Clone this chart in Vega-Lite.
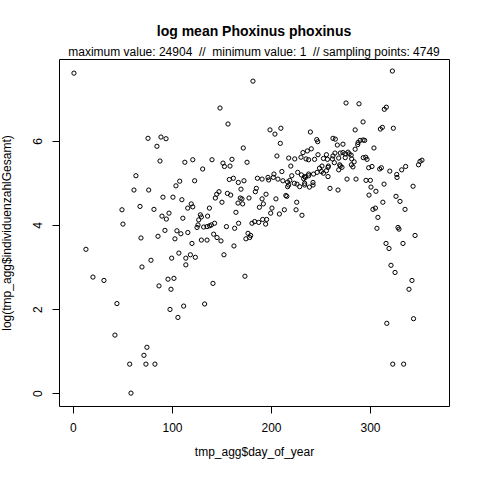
{
  "$schema": "https://vega.github.io/schema/vega-lite/v6.json",
  "width": 390,
  "height": 347,
  "autosize": "none",
  "padding": {"left": 59, "top": 59, "right": 31, "bottom": 74},
  "background": "white",
  "title": {
    "text": "log mean Phoxinus phoxinus",
    "subtitle": "maximum value: 24904 \u00a0//\u00a0 minimum value: 1 \u00a0// sampling points: 4749",
    "font": "Liberation Sans",
    "fontSize": 14,
    "fontWeight": "bold",
    "color": "black",
    "subtitleFont": "Liberation Sans",
    "subtitleFontSize": 12,
    "subtitleColor": "black",
    "subtitlePadding": 8,
    "anchor": "middle",
    "offset": 1
  },
  "config": {
    "view": {"stroke": "black", "strokeWidth": 1},
    "axis": {
      "grid": false,
      "domain": false,
      "tickColor": "black",
      "tickSize": 7,
      "labelFont": "Liberation Sans",
      "labelFontSize": 12,
      "labelColor": "black",
      "titleFont": "Liberation Sans",
      "titleFontSize": 12,
      "titleFontWeight": "normal",
      "titleColor": "black"
    }
  },
  "data": {
    "values": [
      {"day_of_year": 1, "log_count": 7.61},
      {"day_of_year": 75.8, "log_count": 6.06},
      {"day_of_year": 88.9, "log_count": 6.09},
      {"day_of_year": 94, "log_count": 6.05},
      {"day_of_year": 84.8, "log_count": 5.87},
      {"day_of_year": 87.9, "log_count": 5.52},
      {"day_of_year": 113, "log_count": 5.49},
      {"day_of_year": 63.6, "log_count": 5.17},
      {"day_of_year": 181.8, "log_count": 7.42},
      {"day_of_year": 148.5, "log_count": 6.78},
      {"day_of_year": 156.6, "log_count": 6.4},
      {"day_of_year": 199, "log_count": 6.26},
      {"day_of_year": 204, "log_count": 6.16},
      {"day_of_year": 210, "log_count": 6.3},
      {"day_of_year": 239.8, "log_count": 6.21},
      {"day_of_year": 209.4, "log_count": 5.94},
      {"day_of_year": 172, "log_count": 5.83},
      {"day_of_year": 246.2, "log_count": 6.03},
      {"day_of_year": 247.2, "log_count": 5.98},
      {"day_of_year": 121, "log_count": 5.55},
      {"day_of_year": 131, "log_count": 5.33},
      {"day_of_year": 140.4, "log_count": 5.55},
      {"day_of_year": 151.5, "log_count": 5.47},
      {"day_of_year": 153, "log_count": 5.39},
      {"day_of_year": 158.6, "log_count": 5.4},
      {"day_of_year": 160.6, "log_count": 5.56},
      {"day_of_year": 175.8, "log_count": 5.49},
      {"day_of_year": 206, "log_count": 5.64},
      {"day_of_year": 217.9, "log_count": 5.59},
      {"day_of_year": 224, "log_count": 5.57},
      {"day_of_year": 230.3, "log_count": 5.61},
      {"day_of_year": 235.4, "log_count": 5.57},
      {"day_of_year": 238, "log_count": 5.55},
      {"day_of_year": 244, "log_count": 5.56},
      {"day_of_year": 247.5, "log_count": 5.67},
      {"day_of_year": 236.7, "log_count": 5.76},
      {"day_of_year": 240.7, "log_count": 5.81},
      {"day_of_year": 220, "log_count": 5.4},
      {"day_of_year": 203, "log_count": 5.21},
      {"day_of_year": 211, "log_count": 5.27},
      {"day_of_year": 221, "log_count": 5.17},
      {"day_of_year": 227, "log_count": 5.25},
      {"day_of_year": 238, "log_count": 5.21},
      {"day_of_year": 243, "log_count": 5.21},
      {"day_of_year": 246.6, "log_count": 5.25},
      {"day_of_year": 322.6, "log_count": 7.66},
      {"day_of_year": 275.8, "log_count": 6.9},
      {"day_of_year": 288.9, "log_count": 6.88},
      {"day_of_year": 314.5, "log_count": 6.75},
      {"day_of_year": 316.5, "log_count": 6.8},
      {"day_of_year": 293, "log_count": 6.45},
      {"day_of_year": 285, "log_count": 6.26},
      {"day_of_year": 310.5, "log_count": 6.28},
      {"day_of_year": 312.5, "log_count": 6.32},
      {"day_of_year": 323.6, "log_count": 6.3},
      {"day_of_year": 262.6, "log_count": 6.06},
      {"day_of_year": 265, "log_count": 6.04},
      {"day_of_year": 288, "log_count": 5.96},
      {"day_of_year": 290, "log_count": 6.01},
      {"day_of_year": 293, "log_count": 6.02},
      {"day_of_year": 294.6, "log_count": 6.01},
      {"day_of_year": 267, "log_count": 5.9},
      {"day_of_year": 272.7, "log_count": 5.92},
      {"day_of_year": 287.6, "log_count": 5.91},
      {"day_of_year": 304, "log_count": 5.83},
      {"day_of_year": 285, "log_count": 5.8},
      {"day_of_year": 264.6, "log_count": 5.71},
      {"day_of_year": 270, "log_count": 5.71},
      {"day_of_year": 272.7, "log_count": 5.72},
      {"day_of_year": 275, "log_count": 5.69},
      {"day_of_year": 277.8, "log_count": 5.73},
      {"day_of_year": 279, "log_count": 5.69},
      {"day_of_year": 281, "log_count": 5.66},
      {"day_of_year": 262.6, "log_count": 5.64},
      {"day_of_year": 253, "log_count": 5.58},
      {"day_of_year": 257, "log_count": 5.56},
      {"day_of_year": 262, "log_count": 5.57},
      {"day_of_year": 268.4, "log_count": 5.59},
      {"day_of_year": 275, "log_count": 5.6},
      {"day_of_year": 281.5, "log_count": 5.57},
      {"day_of_year": 293.2, "log_count": 5.6},
      {"day_of_year": 295.7, "log_count": 5.61},
      {"day_of_year": 297, "log_count": 5.56},
      {"day_of_year": 284, "log_count": 5.5},
      {"day_of_year": 264, "log_count": 5.48},
      {"day_of_year": 350.5, "log_count": 5.51},
      {"day_of_year": 352.5, "log_count": 5.54},
      {"day_of_year": 349, "log_count": 5.43},
      {"day_of_year": 336, "log_count": 5.39},
      {"day_of_year": 332, "log_count": 5.31},
      {"day_of_year": 251.5, "log_count": 5.4},
      {"day_of_year": 258, "log_count": 5.4},
      {"day_of_year": 270, "log_count": 5.4},
      {"day_of_year": 271.7, "log_count": 5.37},
      {"day_of_year": 282.8, "log_count": 5.38},
      {"day_of_year": 298.7, "log_count": 5.36},
      {"day_of_year": 302, "log_count": 5.39},
      {"day_of_year": 309.8, "log_count": 5.33},
      {"day_of_year": 311.5, "log_count": 5.36},
      {"day_of_year": 320, "log_count": 5.28},
      {"day_of_year": 327, "log_count": 5.2},
      {"day_of_year": 268.4, "log_count": 5.31},
      {"day_of_year": 232.3, "log_count": 5.72},
      {"day_of_year": 256, "log_count": 5.67},
      {"day_of_year": 249, "log_count": 5.35},
      {"day_of_year": 251, "log_count": 5.27},
      {"day_of_year": 253, "log_count": 5.23},
      {"day_of_year": 256, "log_count": 5.29},
      {"day_of_year": 257.6, "log_count": 5.37},
      {"day_of_year": 234, "log_count": 5.15},
      {"day_of_year": 230.7, "log_count": 5.19},
      {"day_of_year": 242.4, "log_count": 5.01},
      {"day_of_year": 234, "log_count": 4.99},
      {"day_of_year": 269.4, "log_count": 5.43},
      {"day_of_year": 281.2, "log_count": 5.43},
      {"day_of_year": 61.6, "log_count": 4.83},
      {"day_of_year": 76.5, "log_count": 4.83},
      {"day_of_year": 104, "log_count": 4.93},
      {"day_of_year": 107.8, "log_count": 5.04},
      {"day_of_year": 90.9, "log_count": 4.66},
      {"day_of_year": 101, "log_count": 4.66},
      {"day_of_year": 110, "log_count": 4.6},
      {"day_of_year": 115.9, "log_count": 4.4},
      {"day_of_year": 49.5, "log_count": 4.36},
      {"day_of_year": 67.7, "log_count": 4.44},
      {"day_of_year": 81.8, "log_count": 4.37},
      {"day_of_year": 89.9, "log_count": 4.21},
      {"day_of_year": 94.3, "log_count": 4.14},
      {"day_of_year": 97, "log_count": 4.28},
      {"day_of_year": 111, "log_count": 4.16},
      {"day_of_year": 50.5, "log_count": 4.02},
      {"day_of_year": 68.7, "log_count": 3.69},
      {"day_of_year": 85.9, "log_count": 3.73},
      {"day_of_year": 92.9, "log_count": 3.87},
      {"day_of_year": 103, "log_count": 3.67},
      {"day_of_year": 105, "log_count": 3.86},
      {"day_of_year": 109, "log_count": 3.79},
      {"day_of_year": 116, "log_count": 3.82},
      {"day_of_year": 13.1, "log_count": 3.42},
      {"day_of_year": 69.7, "log_count": 3.0},
      {"day_of_year": 78.8, "log_count": 3.16},
      {"day_of_year": 99.7, "log_count": 3.21},
      {"day_of_year": 107, "log_count": 3.33},
      {"day_of_year": 114, "log_count": 3.21},
      {"day_of_year": 114, "log_count": 3.05},
      {"day_of_year": 20.2, "log_count": 2.76},
      {"day_of_year": 31.3, "log_count": 2.68},
      {"day_of_year": 86.9, "log_count": 2.55},
      {"day_of_year": 96, "log_count": 2.71},
      {"day_of_year": 102, "log_count": 2.73},
      {"day_of_year": 99, "log_count": 2.47},
      {"day_of_year": 122.9, "log_count": 5.05},
      {"day_of_year": 157.9, "log_count": 5.08},
      {"day_of_year": 162, "log_count": 5.11},
      {"day_of_year": 167, "log_count": 5.01},
      {"day_of_year": 172.7, "log_count": 5.05},
      {"day_of_year": 186.3, "log_count": 5.11},
      {"day_of_year": 191, "log_count": 5.09},
      {"day_of_year": 197.7, "log_count": 5.07},
      {"day_of_year": 197, "log_count": 5.13},
      {"day_of_year": 202.4, "log_count": 5.13},
      {"day_of_year": 207, "log_count": 5.09},
      {"day_of_year": 212, "log_count": 5.05},
      {"day_of_year": 216.8, "log_count": 5.02},
      {"day_of_year": 219, "log_count": 5.06},
      {"day_of_year": 223.6, "log_count": 4.99},
      {"day_of_year": 233, "log_count": 5.1},
      {"day_of_year": 234.7, "log_count": 5.13},
      {"day_of_year": 238, "log_count": 5.17},
      {"day_of_year": 169.7, "log_count": 4.85},
      {"day_of_year": 185.2, "log_count": 4.87},
      {"day_of_year": 184.2, "log_count": 4.79},
      {"day_of_year": 216.8, "log_count": 4.91},
      {"day_of_year": 217.9, "log_count": 4.95},
      {"day_of_year": 226.3, "log_count": 4.97},
      {"day_of_year": 229, "log_count": 4.91},
      {"day_of_year": 234, "log_count": 4.95},
      {"day_of_year": 238.8, "log_count": 4.9},
      {"day_of_year": 242.5, "log_count": 4.95},
      {"day_of_year": 147.5, "log_count": 4.79},
      {"day_of_year": 145.2, "log_count": 4.73},
      {"day_of_year": 143.8, "log_count": 4.64},
      {"day_of_year": 150.5, "log_count": 4.54},
      {"day_of_year": 156, "log_count": 4.75},
      {"day_of_year": 159.3, "log_count": 4.71},
      {"day_of_year": 169, "log_count": 4.64},
      {"day_of_year": 170.7, "log_count": 4.62},
      {"day_of_year": 166.7, "log_count": 4.52},
      {"day_of_year": 171.4, "log_count": 4.5},
      {"day_of_year": 177.8, "log_count": 4.64},
      {"day_of_year": 195, "log_count": 4.73},
      {"day_of_year": 191, "log_count": 4.62},
      {"day_of_year": 192.3, "log_count": 4.5},
      {"day_of_year": 205, "log_count": 4.62},
      {"day_of_year": 215, "log_count": 4.7},
      {"day_of_year": 216, "log_count": 4.68},
      {"day_of_year": 226, "log_count": 4.54},
      {"day_of_year": 188.3, "log_count": 4.42},
      {"day_of_year": 201, "log_count": 4.4},
      {"day_of_year": 199.7, "log_count": 4.28},
      {"day_of_year": 208.5, "log_count": 4.26},
      {"day_of_year": 213.5, "log_count": 4.36},
      {"day_of_year": 225.3, "log_count": 4.36},
      {"day_of_year": 231.3, "log_count": 4.23},
      {"day_of_year": 164.6, "log_count": 4.3},
      {"day_of_year": 137.8, "log_count": 4.4},
      {"day_of_year": 128.7, "log_count": 4.24},
      {"day_of_year": 129.7, "log_count": 4.19},
      {"day_of_year": 136, "log_count": 4.21},
      {"day_of_year": 127, "log_count": 4.12},
      {"day_of_year": 126.3, "log_count": 4.0},
      {"day_of_year": 125.3, "log_count": 3.94},
      {"day_of_year": 132, "log_count": 3.95},
      {"day_of_year": 135.4, "log_count": 3.96},
      {"day_of_year": 138, "log_count": 3.98},
      {"day_of_year": 139.8, "log_count": 4.0},
      {"day_of_year": 143, "log_count": 4.04},
      {"day_of_year": 155, "log_count": 3.96},
      {"day_of_year": 163.3, "log_count": 3.92},
      {"day_of_year": 167.3, "log_count": 4.04},
      {"day_of_year": 180.8, "log_count": 4.04},
      {"day_of_year": 183.5, "log_count": 4.08},
      {"day_of_year": 187.6, "log_count": 4.06},
      {"day_of_year": 191.6, "log_count": 4.13},
      {"day_of_year": 195.6, "log_count": 4.13},
      {"day_of_year": 194.6, "log_count": 4.02},
      {"day_of_year": 119.5, "log_count": 4.5},
      {"day_of_year": 121, "log_count": 4.43},
      {"day_of_year": 120.2, "log_count": 3.56},
      {"day_of_year": 129.7, "log_count": 3.64},
      {"day_of_year": 135.4, "log_count": 3.64},
      {"day_of_year": 142.1, "log_count": 3.78},
      {"day_of_year": 145.5, "log_count": 3.7},
      {"day_of_year": 149.5, "log_count": 3.62},
      {"day_of_year": 162.6, "log_count": 3.5},
      {"day_of_year": 176.8, "log_count": 3.8},
      {"day_of_year": 179.5, "log_count": 3.75},
      {"day_of_year": 174.7, "log_count": 3.67},
      {"day_of_year": 178.5, "log_count": 3.7},
      {"day_of_year": 118.6, "log_count": 3.29},
      {"day_of_year": 123.6, "log_count": 3.23},
      {"day_of_year": 152.5, "log_count": 3.29},
      {"day_of_year": 173.7, "log_count": 2.78},
      {"day_of_year": 141.4, "log_count": 2.61},
      {"day_of_year": 133, "log_count": 2.12},
      {"day_of_year": 257.6, "log_count": 5.15},
      {"day_of_year": 276.8, "log_count": 5.09},
      {"day_of_year": 285.9, "log_count": 5.09},
      {"day_of_year": 296, "log_count": 5.06},
      {"day_of_year": 300.4, "log_count": 5.06},
      {"day_of_year": 327.3, "log_count": 5.13},
      {"day_of_year": 314.2, "log_count": 4.97},
      {"day_of_year": 343.5, "log_count": 4.92},
      {"day_of_year": 259.6, "log_count": 4.87},
      {"day_of_year": 267.7, "log_count": 4.83},
      {"day_of_year": 301, "log_count": 4.9},
      {"day_of_year": 306, "log_count": 4.8},
      {"day_of_year": 299, "log_count": 4.71},
      {"day_of_year": 326.3, "log_count": 4.68},
      {"day_of_year": 330.3, "log_count": 4.56},
      {"day_of_year": 313, "log_count": 4.54},
      {"day_of_year": 303, "log_count": 4.37},
      {"day_of_year": 305.5, "log_count": 4.4},
      {"day_of_year": 335.4, "log_count": 4.37},
      {"day_of_year": 308, "log_count": 4.18},
      {"day_of_year": 307, "log_count": 3.92},
      {"day_of_year": 328.3, "log_count": 3.94},
      {"day_of_year": 329.3, "log_count": 3.9},
      {"day_of_year": 345.5, "log_count": 3.75},
      {"day_of_year": 316.2, "log_count": 3.56},
      {"day_of_year": 319.2, "log_count": 3.44},
      {"day_of_year": 333.3, "log_count": 3.56},
      {"day_of_year": 321.2, "log_count": 3.04},
      {"day_of_year": 325.3, "log_count": 2.87},
      {"day_of_year": 342.4, "log_count": 2.68},
      {"day_of_year": 339.4, "log_count": 2.47},
      {"day_of_year": 44.4, "log_count": 2.13},
      {"day_of_year": 98, "log_count": 1.99},
      {"day_of_year": 111.8, "log_count": 2.07},
      {"day_of_year": 106, "log_count": 1.8},
      {"day_of_year": 42.4, "log_count": 1.38},
      {"day_of_year": 74.7, "log_count": 1.09},
      {"day_of_year": 71.7, "log_count": 0.9},
      {"day_of_year": 57.3, "log_count": 0.69},
      {"day_of_year": 73.7, "log_count": 0.69},
      {"day_of_year": 82.8, "log_count": 0.69},
      {"day_of_year": 58.6, "log_count": 0.0},
      {"day_of_year": 317, "log_count": 1.66},
      {"day_of_year": 323, "log_count": 0.69},
      {"day_of_year": 334, "log_count": 0.69},
      {"day_of_year": 344, "log_count": 1.77}
    ]
  },
  "mark": {"type": "point", "shape": "circle", "filled": false, "stroke": "black", "strokeWidth": 1, "size": 18, "opacity": 1},
  "encoding": {
    "x": {
      "field": "day_of_year",
      "type": "quantitative",
      "scale": {"domain": [-14.1, 379.8], "nice": false, "zero": false},
      "axis": {"title": "tmp_agg$day_of_year", "values": [0, 100, 200, 300], "labelPadding": 9, "titlePadding": 13}
    },
    "y": {
      "field": "log_count",
      "type": "quantitative",
      "scale": {"domain": [-0.306, 7.946], "nice": false, "zero": false},
      "axis": {"title": "log(tmp_agg$individuenzahlGesamt)", "values": [0, 2, 4, 6], "labelAngle": -90, "labelAlign": "center", "labelBaseline": "bottom", "labelPadding": 8, "titlePadding": 18}
    }
  }
}
